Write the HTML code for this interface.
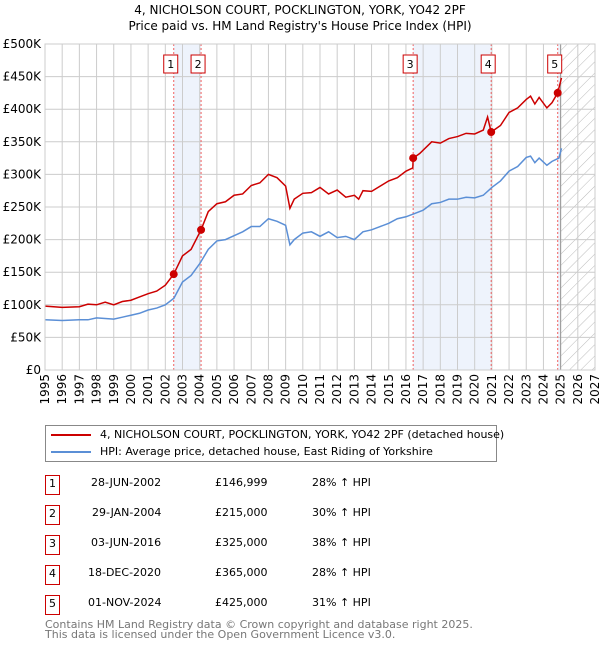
<!DOCTYPE html>
<html><head><meta charset="utf-8"><style>
body{margin:0;background:#fff;font-family:"DejaVu Sans","Liberation Sans",sans-serif}
#wrap{position:relative;width:600px;height:650px;overflow:hidden}
.t{position:absolute;font-size:11px;color:#000;white-space:nowrap}
.box{position:absolute;width:13px;height:18px;border:1px solid #c00;font-size:11px;text-align:center;line-height:16px;left:45px}
svg text{font-family:"DejaVu Sans","Liberation Sans",sans-serif}
</style></head><body><div id="wrap">
<div class="t" style="left:0;width:600px;text-align:center;top:3px;font-size:12px">4, NICHOLSON COURT, POCKLINGTON, YORK, YO42 2PF</div>
<div class="t" style="left:0;width:600px;text-align:center;top:19px;font-size:12px">Price paid vs. HM Land Registry's House Price Index (HPI)</div>
<svg id="c" width="600" height="420" style="position:absolute;left:0;top:0"></svg>
<div style="position:absolute;left:45px;top:425px;width:450px;height:35px;border:1px solid #888">
<div style="position:absolute;left:5px;top:8px;width:40px;height:2px;background:#c00"></div>
<div class="t" style="left:54px;top:2px">4, NICHOLSON COURT, POCKLINGTON, YORK, YO42 2PF (detached house)</div>
<div style="position:absolute;left:5px;top:25px;width:40px;height:2px;background:#5b8fd6"></div>
<div class="t" style="left:54px;top:19px">HPI: Average price, detached house, East Riding of Yorkshire</div>
</div>
<div id="tbl"></div>
<div class="t" style="left:45px;top:620px;color:#777;font-size:11px;line-height:10px">Contains HM Land Registry data © Crown copyright and database right 2025.<br>This data is licensed under the Open Government Licence v3.0.</div>
</div>
<script>
const hpiYears=[1995,1996,1997,1997.5,1998,1998.5,1999,1999.5,2000,2000.5,2001,2001.5,2002,2002.5,2003,2003.5,2004,2004.5,2005,2005.5,2006,2006.5,2007,2007.5,2008,2008.5,2009,2009.25,2009.5,2010,2010.5,2011,2011.5,2012,2012.5,2013,2013.5,2014,2014.5,2015,2015.5,2016,2016.5,2017,2017.5,2018,2018.5,2019,2019.5,2020,2020.5,2021,2021.5,2022,2022.5,2023,2023.25,2023.5,2023.75,2024.2,2024.5,2024.9,2025.05];
const hpiValues=[77,76,77,77,80,79,78,81,84,87,92,95,100,110,135,145,163,185,198,200,206,212,220,220,232,228,222,192,200,210,212,205,212,203,205,200,212,215,220,225,232,235,240,245,255,257,262,262,265,264,268,280,290,305,312,326,328,318,325,314,320,325,340];
const propYears=[1995,1996,1997,1997.5,1998,1998.5,1999,1999.5,2000,2000.5,2001,2001.5,2002,2002.49,2003,2003.5,2004.08,2004.5,2005,2005.5,2006,2006.5,2007,2007.5,2008,2008.5,2009,2009.25,2009.5,2010,2010.5,2011,2011.5,2012,2012.5,2013,2013.25,2013.5,2014,2014.5,2015,2015.5,2016,2016.4,2016.42,2016.8,2017.5,2018,2018.5,2019,2019.5,2020,2020.5,2020.75,2020.96,2021.5,2022,2022.5,2023,2023.25,2023.5,2023.75,2024.2,2024.5,2024.83,2025.05];
const propValues=[98,96,97,101,100,104,100,105,107,112,117,121,130,147,175,185,215,243,255,258,268,270,283,287,300,295,282,248,262,271,272,280,270,276,265,268,262,275,274,282,290,295,305,310,325,332,350,348,355,358,363,362,368,388,365,375,395,402,415,420,408,418,402,410,425,448];
const saleYears=[2002.49,2004.08,2016.42,2020.96,2024.83];
const saleValues=[146.999,215,325,365,425];
const saleDates=["28-JUN-2002","29-JAN-2004","03-JUN-2016","18-DEC-2020","01-NOV-2024"];
const salePrices=["£146,999","£215,000","£325,000","£365,000","£425,000"];
const salePct=["28% ↑ HPI","30% ↑ HPI","38% ↑ HPI","28% ↑ HPI","31% ↑ HPI"];
const yTicks=[0,50,100,150,200,250,300,350,400,450,500];
const yLabels=["£0","£50K","£100K","£150K","£200K","£250K","£300K","£350K","£400K","£450K","£500K"];
const X0=45,X1=595,Y0=370,Y1=44;
const x=v=>X0+(v-1995)*(X1-X0)/32;
const y=v=>Y0-v*(Y0-Y1)/500;
const svg=document.getElementById('c');const NS='http://www.w3.org/2000/svg';
function mk(tag,attrs){const e=document.createElementNS(NS,tag);for(const k in attrs)e.setAttribute(k,attrs[k]);svg.appendChild(e);return e;}
svg.innerHTML='<defs><pattern id="h" width="8" height="8" patternUnits="userSpaceOnUse" patternTransform="rotate(45)"><line x1="0" y1="0" x2="0" y2="8" stroke="#bbb" stroke-width="1"/></pattern></defs>';
[[0,1],[2,3]].forEach(p=>{const r=mk('rect',{x:x(saleYears[p[0]]),y:Y1,width:x(saleYears[p[1]])-x(saleYears[p[0]]),height:Y0-Y1,fill:'#eef3fc'});

});
const b5=mk('rect',{x:x(saleYears[4]),y:Y1,width:x(2025)-x(saleYears[4]),height:Y0-Y1,fill:'#eef3fc'});


const hz=mk('rect',{x:x(2025),y:Y1,width:X1-x(2025),height:Y0-Y1,fill:'url(#h)'});


for(let yr=1995;yr<=2027;yr++){const l=mk('line',{x1:x(yr),x2:x(yr),y1:Y1,y2:Y0,stroke:'#ccc'});


const t=mk('text',{x:0,y:0,'font-size':12,'text-anchor':'end',transform:`translate(${x(yr)+4},${Y0+4}) rotate(-90)`});t.textContent=yr;

}
yTicks.forEach((v,i)=>{const l=mk('line',{x1:X0,x2:X1,y1:y(v),y2:y(v),stroke:'#ccc'});


const t=mk('text',{x:X0-4,y:y(v)+4,'font-size':12,'text-anchor':'end'});t.textContent=yLabels[i];

});
mk('line',{x1:x(2025),x2:x(2025),y1:Y1,y2:Y0,stroke:'#999'});
saleYears.forEach((s,i)=>{const l=mk('line',{x1:x(s),x2:x(s),y1:Y1,y2:Y0,stroke:'#f06060','stroke-dasharray':'2,2'});


const r=mk('rect',{x:x(s)-10,y:55,width:14,height:18,fill:'#fff',stroke:'#c00'});


const t=mk('text',{x:x(s)-3,y:68,'font-size':11,'text-anchor':'middle'});t.textContent=i+1;

});
const hp=mk('polyline',{points:hpiYears.map((v,i)=>x(v)+','+y(hpiValues[i])).join(' '),fill:'none',stroke:'#5b8fd6','stroke-width':1.5});


const pp=mk('polyline',{points:propYears.map((v,i)=>x(v)+','+y(propValues[i])).join(' '),fill:'none',stroke:'#c00','stroke-width':1.5});


saleYears.forEach((s,i)=>{const c=mk('circle',{cx:x(s),cy:y(saleValues[i]),r:4,fill:'#c00'});

});
mk('rect',{x:X0,y:Y1,width:X1-X0,height:Y0-Y1,fill:'none',stroke:'#ccc'});
const tbl=document.getElementById('tbl');
saleDates.forEach((d,i)=>{const top=475+i*30;
const row=document.createElement('div');


row.innerHTML=`<div class="box" style="top:${top}px">${i+1}</div><div class="t" style="left:${i==1?92:(i>=3?88:91)}px;top:${top+1}px">${d}</div><div class="t" style="left:215px;top:${top+1}px">${salePrices[i]}</div><div class="t" style="left:312px;top:${top+1}px">${salePct[i]}</div>`;
tbl.appendChild(row);});
</script></body></html>
